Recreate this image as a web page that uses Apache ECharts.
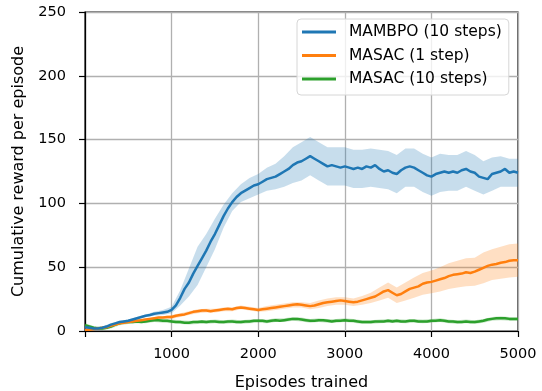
<!DOCTYPE html>
<html>
<head>
<meta charset="utf-8">
<script src="https://cdn.jsdelivr.net/npm/echarts@6/dist/echarts.min.js"></script>
<style>html,body{margin:0;padding:0;background:#fff;}#c{width:542px;height:391px;}</style>
</head>
<body>
<div id="c"></div>
<script>
// Episodes for mean curves (every 50 episodes)
const episodes = [];
for (let e = 0; e <= 5000; e += 50) episodes.push(e);
// Episodes for shaded bands (every 100 episodes)
const bandEpisodes = [];
for (let e = 0; e <= 5000; e += 100) bandEpisodes.push(e);

const seriesNames = ['MAMBPO (10 steps)', 'MASAC (1 step)', 'MASAC (10 steps)'];
const xTicks = [1000, 2000, 3000, 4000, 5000];
const yTicks = [0, 50, 100, 150, 200, 250];

// MAMBPO (10 steps) mean reward
const mambpoMean = [
  3, 2.5, 2, 2, 2.5, 3.5, 5, 6, 7, 7.5,
  8, 9, 10, 11, 12, 12.5, 13.5, 14, 14.5, 15,
  16.5, 20, 26, 33, 38, 45, 51, 57, 63, 70,
  76, 83, 90, 96, 101, 105, 108, 110, 112, 114,
  115, 117, 119, 120, 121, 123, 125, 127, 130, 132,
  133, 135, 137, 135, 133, 131, 129, 130, 129, 128,
  129, 128, 127, 128, 127, 129, 128, 130, 127, 125,
  126, 124, 123, 126, 128, 129, 128, 126, 124, 122,
  121, 123, 124, 125, 124, 125, 124, 126, 127, 125,
  124, 121, 120, 119, 123, 124, 125, 127, 124, 125,
  124
];
// MAMBPO band half-width (every 100 episodes)
const mambpoSpread = [
  1, 1, 1, 1, 1, 1, 1, 1, 1.5, 2,
  2.5, 6, 11, 15, 13, 12, 9, 7, 7, 8,
  8, 9, 10, 12, 14, 15, 15, 15, 15, 15,
  15, 15, 15, 15, 15, 15, 15, 15, 15, 15,
  15, 15, 14, 14, 14, 14, 13, 13, 12, 11,
  11
];

// MASAC (1 step) mean reward
const masac1Mean = [
  1, 1, 1.5, 2, 2.5, 3, 4, 5, 6, 6.5,
  7, 7.5, 8, 8.5, 9, 9.5, 10, 10.5, 10.5, 11,
  11, 12, 12.5, 13, 14, 15, 15.5, 16, 16, 15.5,
  16, 16.5, 17, 17.5, 17, 18, 18.5, 18, 17.5, 17,
  16.5, 17, 17.5, 18, 18.5, 19, 19.5, 20, 20.5, 21,
  20.5, 20, 19.5, 20, 21, 22, 22.5, 23, 23.5, 24,
  23.5, 23, 22.5, 23, 24, 25, 26, 27, 29, 31,
  32, 30, 28, 29, 31, 33, 34, 35, 37, 38,
  38.5, 39.5, 40.5, 41.5, 43, 44, 44.5, 45, 46, 45.5,
  46.5, 48, 49.5, 51, 52, 52.5, 53.5, 54, 55, 55.5,
  55.5
];
const masac1Spread = [
  1, 1, 1, 1, 1, 1, 1, 1, 1, 1,
  1.5, 1.5, 1.5, 1.5, 1.5, 1.5, 1.5, 1.5, 1.5, 1.5,
  1.5, 2, 2, 2, 2, 2, 2.5, 3, 3, 3,
  3, 3, 3.5, 4, 5, 6, 6, 7, 8, 8.5,
  9, 9.5, 10, 10.5, 11, 11, 12, 12, 12.5, 13,
  13
];

// MASAC (10 steps) mean reward
const masac10Mean = [
  4.5, 3.5, 2.5, 2, 2, 2.5, 3.5, 5, 6, 7,
  7, 7, 7.5, 7, 7.5, 8, 8.5, 8.5, 8, 8,
  7.5, 7, 7, 6.5, 6.5, 7, 7, 7.5, 7, 7.5,
  7.5, 7, 7, 7.5, 7.5, 7, 7, 7.5, 7.5, 8,
  8, 8, 7.5, 8, 8.5, 8, 8.5, 9, 9.5, 9.5,
  9, 8.5, 8, 8, 8.5, 8.5, 8, 7.5, 8, 8,
  8.5, 8, 8, 7.5, 7, 7, 7, 7.5, 7.5, 7.5,
  8, 7.5, 8, 7.5, 7.5, 8, 8, 7.5, 7.5, 7.5,
  8, 8, 8.5, 8, 7.5, 7.5, 7, 7, 7.5, 7,
  7, 7.5, 8, 9, 9.5, 10, 10, 10, 9.5, 9.5,
  9.5
];
const masac10Spread = [
  1.5, 1.5, 1.5, 1.5, 1.5, 1.5, 1.5, 1.5, 1.5, 1.5,
  1.5, 1.5, 1.5, 1.5, 1.5, 1.5, 1.5, 1.5, 1.5, 1.5,
  1.5, 1.5, 1.5, 1.5, 1.5, 1.5, 1.5, 1.5, 1.5, 1.5,
  1.5, 1.5, 1.5, 1.5, 1.5, 1.5, 1.5, 1.5, 1.5, 1.5,
  1.5, 1.5, 1.5, 1.5, 1.5, 1.5, 1.5, 1.5, 1.5, 1.5,
  1.5
];

const colors = ['#1f77b4', '#ff7f0e', '#2ca02c'];
const bandColors = ['rgba(31,119,180,0.25)', 'rgba(255,127,14,0.25)', 'rgba(44,160,44,0.25)'];
const means = [mambpoMean, masac1Mean, masac10Mean];
const spreads = [mambpoSpread, masac1Spread, masac10Spread];

const series = [];
for (let k = 0; k < 3; k++) {
  const band = bandEpisodes.map((e, i) => [e, means[k][i * 2] - spreads[k][i], means[k][i * 2] + spreads[k][i]]);
  series.push({
    name: 'band-' + k, type: 'custom', silent: true, z: 1,
    encode: { x: 0, y: [1, 2] },
    data: band,
    renderItem: function (params, api) {
      if (params.dataIndex !== band.length - 1) return null;
      const pts = [];
      for (let i = 0; i < band.length; i++) pts.push(api.coord([band[i][0], band[i][2]]));
      for (let i = band.length - 1; i >= 0; i--) pts.push(api.coord([band[i][0], band[i][1]]));
      return {
        type: 'polygon', shape: { points: pts },
        style: { fill: bandColors[k], stroke: null },
        clipPath: { type: 'rect', shape: { x: params.coordSys.x, y: params.coordSys.y, width: params.coordSys.width, height: params.coordSys.height } }
      };
    }
  });
}
for (let k = 0; k < 3; k++) {
  series.push({
    name: seriesNames[k], type: 'line',
    data: episodes.map((e, i) => [e, means[k][i]]),
    symbol: 'none', color: colors[k],
    lineStyle: { width: 2.5, color: colors[k] }, z: 3 + (2 - k)
  });
}

const font = 'DejaVu Sans';
const chart = echarts.init(document.getElementById('c'), null, { renderer: 'canvas' });
chart.setOption({
  animation: false,
  backgroundColor: '#fff',
  grid: { left: 85, right: 24, top: 12, bottom: 60, show: true, borderColor: '#000', borderWidth: 1.2,
    containLabel: false, outerBoundsMode: 'none' },
  legend: {
    data: seriesNames.map(n => ({ name: n, icon: 'rect' })),
    orient: 'vertical', left: 297, top: 19,
    itemWidth: 34, itemHeight: 3, itemGap: 7.5,
    padding: [5, 7, 8, 5],
    formatter: n => '{g|}' + n,
    backgroundColor: 'rgba(255,255,255,0.8)', borderColor: '#d6d6d6', borderWidth: 1, borderRadius: 4,
    textStyle: { fontFamily: font, fontSize: 15.5, color: '#000', rich: { g: { width: 8 } } }
  },
  xAxis: {
    type: 'value', min: 0, max: 5000, interval: 1000,
    name: 'Episodes trained', nameLocation: 'middle', nameGap: 44,
    nameTextStyle: { fontFamily: font, fontSize: 16, color: '#000' },
    axisLine: { lineStyle: { color: '#000', width: 1.2 } },
    axisTick: { show: true, length: 6, lineStyle: { color: '#000', width: 1.2 } },
    axisLabel: { fontFamily: font, fontSize: 14.5, color: '#000', margin: 16,
      formatter: v => (xTicks.indexOf(v) >= 0 ? String(v) : '') },
    splitLine: { show: true, lineStyle: { color: '#b0b0b0', width: 1.3 } }
  },
  yAxis: {
    type: 'value', min: 0, max: 250, interval: 50,
    name: 'Cumulative reward per episode', nameLocation: 'middle', nameGap: 58,
    nameTextStyle: { fontFamily: font, fontSize: 16, color: '#000' },
    axisLine: { show: true, lineStyle: { color: '#000', width: 1.2 } },
    axisTick: { show: true, length: 6, lineStyle: { color: '#000', width: 1.2 } },
    axisLabel: { fontFamily: font, fontSize: 14.5, color: '#000', margin: 19,
      formatter: v => (yTicks.indexOf(v) >= 0 ? String(v) : '') },
    splitLine: { show: true, lineStyle: { color: '#b0b0b0', width: 1.3 } }
  },
  series: series
});
</script>
</body>
</html>
